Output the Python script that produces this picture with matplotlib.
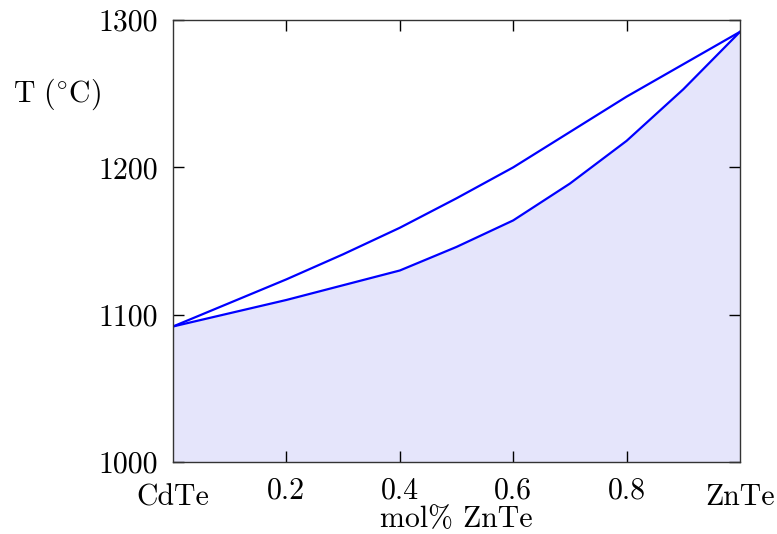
import numpy as np
import matplotlib
matplotlib.use("Agg")
import matplotlib.pyplot as plt
from matplotlib.transforms import blended_transform_factory

plt.rcParams['font.family'] = ['cmr10', 'DejaVu Serif']
plt.rcParams['mathtext.fontset'] = 'cm'
plt.rcParams['axes.formatter.use_mathtext'] = True

# composition (mole fraction ZnTe) and temperatures
x_liq = [0.0, 0.1, 0.2, 0.3, 0.4, 0.5, 0.6, 0.7, 0.8, 0.9, 1.0]
t_liq = [1092, 1108, 1124, 1141, 1159, 1179, 1200, 1224, 1248, 1270, 1292]

x_sol = [0.0, 0.1, 0.2, 0.3, 0.4, 0.5, 0.6, 0.7, 0.8, 0.9, 1.0]
t_sol = [1092, 1101, 1110, 1120, 1130, 1146, 1164, 1189, 1218, 1253, 1292]

xtick_vals = [0.2, 0.4, 0.6, 0.8]
xtick_labels = ['0.2', '0.4', '0.6', '0.8']
ytick_vals = [1000, 1100, 1200, 1300]
end_labels = ['CdTe', 'ZnTe']

fs = 21.5

fig = plt.figure(figsize=(7.77, 5.34), dpi=100)
ax = fig.add_axes([0.2227, 0.1348, 0.7297, 0.8277])

ax.fill_between(x_sol, t_sol, 1000, color='#e5e5fb', lw=0)
ax.plot(x_liq, t_liq, color='blue', lw=1.6, solid_joinstyle='round')
ax.plot(x_sol, t_sol, color='blue', lw=1.6, solid_joinstyle='round')

ax.set_xlim(0, 1)
ax.set_ylim(1000, 1300)
ax.set_xticks(xtick_vals)
ax.set_xticklabels(xtick_labels)
ax.set_yticks(ytick_vals)
ax.set_yticklabels([str(v) for v in ytick_vals])
ax.tick_params(direction='in', length=8, width=1, labelsize=fs,
               top=True, right=True, pad=11)
ax.tick_params(axis='y', pad=11)
for s in ax.spines.values():
    s.set_linewidth(1)
    s.set_color('#333333')

trans = blended_transform_factory(ax.transData, ax.transAxes)
for xv, lab in zip([0.0, 1.0], end_labels):
    ax.text(xv, -0.08, lab, transform=trans, ha='center', va='center',
            fontsize=fs)

ax.set_xlabel('mol% ZnTe', fontsize=fs, va='center')
ax.xaxis.set_label_coords(0.5, -0.13)
ax.set_ylabel(r'$\mathrm{T\ (^{\circ}C)}$', fontsize=fs, rotation=0,
              ha='center', va='center')
ax.yaxis.set_label_coords(-0.205, 0.832)

fig.savefig('out.png', dpi=100)
